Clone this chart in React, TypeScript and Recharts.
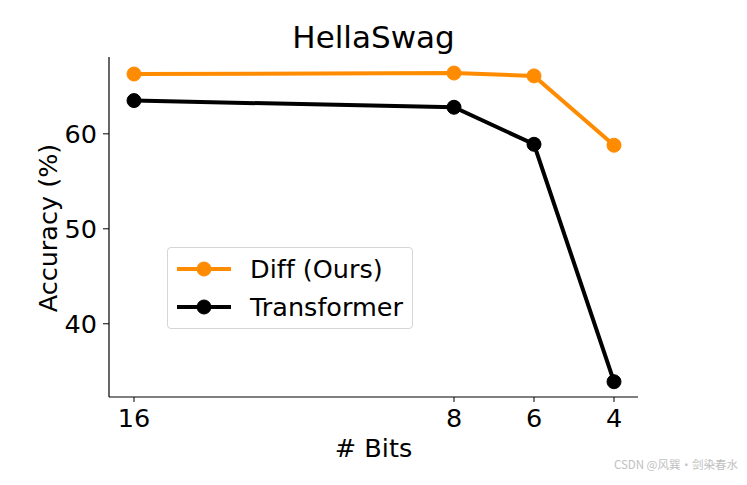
import React from 'react';
import { LineChart, Line, XAxis, YAxis } from 'recharts';

const bits = [16, 8, 6, 4];
const diffAcc = [66.3, 66.4, 66.1, 58.8];
const transformerAcc = [63.5, 62.8, 58.9, 33.9];
const yTicks = [40, 50, 60];
const seriesNames = ['Diff (Ours)', 'Transformer'];
const seriesColors = ['#FF8C00', '#000000'];

const data = bits.map((b, i) => ({ bits: b, diff: diffAcc[i], transformer: transformerAcc[i] }));

const FONT = 'DejaVu Sans';
const FS = 25.5;

function LegendBox() {
  return (
    <div
      style={{
        position: 'absolute',
        left: 167,
        top: 247,
        boxSizing: 'border-box',
        width: 246,
        height: 82,
        border: '1px solid #d6d6d6',
        borderRadius: 4,
        background: 'rgba(255,255,255,0.8)',
        fontFamily: FONT,
      }}
    >
      {seriesNames.map((name, i) => (
        <div key={i} style={{ position: 'absolute', left: 0, top: 2 + i * 38, height: 38, width: 246 }}>
          <svg width={70} height={38} style={{ position: 'absolute', left: 0, top: 0 }}>
            <line x1={9} y1={19} x2={63} y2={19} stroke={seriesColors[i]} strokeWidth={4} />
            <circle cx={36} cy={19} r={7} fill={seriesColors[i]} stroke={seriesColors[i]} strokeWidth={1} />
          </svg>
          <span
            style={{
              position: 'absolute',
              left: 82,
              top: 0,
              lineHeight: '38px',
              fontSize: FS,
              color: '#000',
              whiteSpace: 'nowrap',
              fontVariantLigatures: 'none',
              fontFeatureSettings: '"liga" 0, "clig" 0',
            }}
          >
            {name}
          </span>
        </div>
      ))}
    </div>
  );
}

export default function App() {
  return (
    <div style={{ position: 'absolute', left: 0, top: 0, width: 747, height: 485, background: '#fff' }}>
      <LineChart
        width={747}
        height={485}
        data={data}
        margin={{ top: 57, right: 109, bottom: 0, left: 0 }}
        style={{ fontFamily: FONT }}
      >
        <XAxis
          dataKey="bits"
          type="number"
          domain={[3.4, 16.625]}
          reversed
          allowDataOverflow
          ticks={bits}
          interval={0}
          height={88}
          tickSize={5}
          tickMargin={7}
          axisLine={{ stroke: '#000', strokeWidth: 1.2 }}
          tickLine={{ stroke: '#000', strokeWidth: 1 }}
          tick={{ fontSize: FS, fill: '#000', fontFamily: FONT }}
        />
        <YAxis
          type="number"
          domain={[32.29, 68.09]}
          allowDataOverflow
          ticks={yTicks}
          interval={0}
          width={109}
          tickSize={6}
          tickMargin={6}
          axisLine={{ stroke: '#000', strokeWidth: 1.2 }}
          tickLine={{ stroke: '#000', strokeWidth: 1 }}
          tick={{ fontSize: FS, fill: '#000', fontFamily: FONT }}
        />
        <Line
          name={seriesNames[0]}
          dataKey="diff"
          stroke={seriesColors[0]}
          strokeWidth={4}
          dot={{ r: 7, fill: seriesColors[0], stroke: seriesColors[0], strokeWidth: 1 }}
          activeDot={false}
          isAnimationActive={false}
        />
        <Line
          name={seriesNames[1]}
          dataKey="transformer"
          stroke={seriesColors[1]}
          strokeWidth={4}
          dot={{ r: 7, fill: seriesColors[1], stroke: seriesColors[1], strokeWidth: 1 }}
          activeDot={false}
          isAnimationActive={false}
        />
      </LineChart>
      <LegendBox />
      <svg
        width={747}
        height={485}
        style={{ position: 'absolute', left: 0, top: 0, pointerEvents: 'none' }}
      >
        <text x={373.5} y={48} textAnchor="middle" fontSize={31} fontFamily={FONT} fill="#000">
          HellaSwag
        </text>
        <text x={373.5} y={457} textAnchor="middle" fontSize={FS} fontFamily={FONT} fill="#000">
          # Bits
        </text>
        <text
          transform="translate(57,228) rotate(-90)"
          textAnchor="middle"
          fontSize={FS}
          fontFamily={FONT}
          fill="#000"
        >
          Accuracy (%)
        </text>
        <text
          x={738}
          y={469}
          textAnchor="end"
          fontSize={11.5}
          fontFamily="Noto Sans CJK SC"
          fill="#c0c0c0"
        >
          CSDN @风巽·剑染春水
        </text>
      </svg>
    </div>
  );
}
